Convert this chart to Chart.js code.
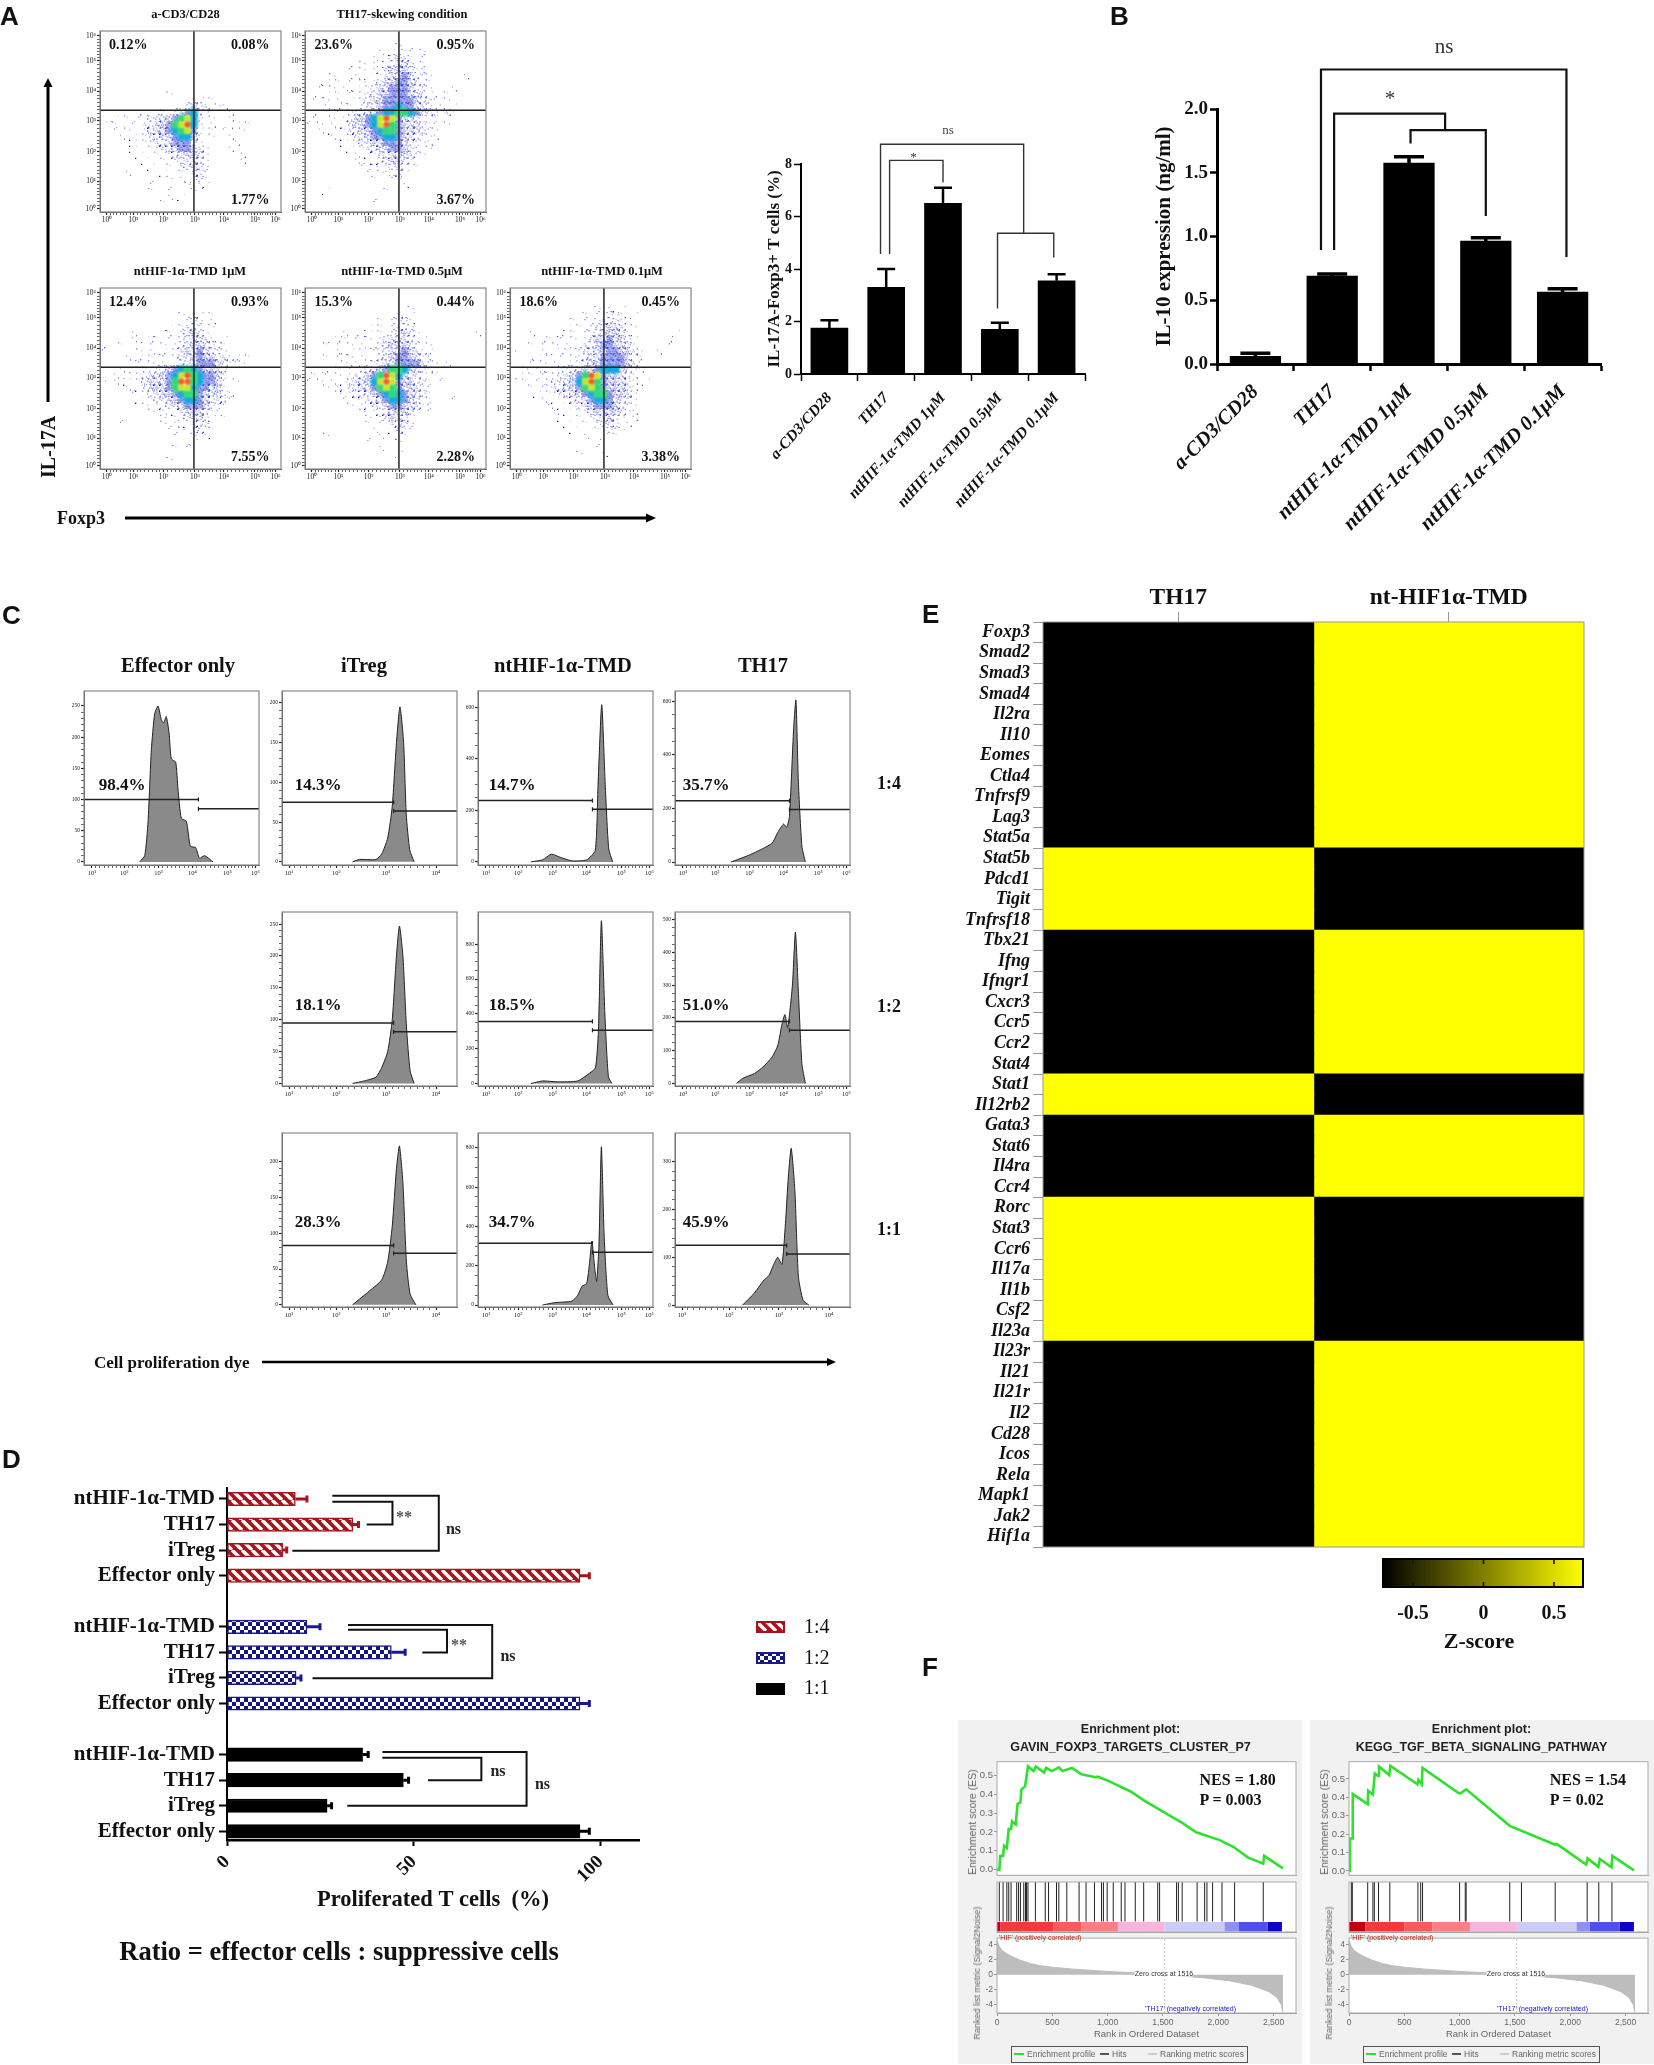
<!DOCTYPE html>
<html><head><meta charset="utf-8">
<script src="https://cdn.jsdelivr.net/npm/chart.js@4/dist/chart.umd.js"></script>
<style>
html,body{margin:0;padding:0;background:#fff}
#root{position:absolute;left:0;top:0;width:1654px;height:2065px;overflow:hidden;filter:blur(0.45px)}
#root canvas{position:absolute}
.t{position:absolute;white-space:pre;line-height:1;color:#111}
svg{position:absolute;left:0;top:0}
</style></head><body><div id="root"></div>
<script>
/* ---------- Panel A bar ---------- */
const barCats=['a-CD3/CD28','TH17','ntHIF-1α-TMD 1μM','ntHIF-1α-TMD 0.5μM','ntHIF-1α-TMD 0.1μM'];
const il17Values=[1.75,3.3,6.5,1.7,3.55];
const il17Err=[2.05,4.0,7.1,1.95,3.8];
const il17Brackets=[[[0.9,4.57],[0.9,8.75],[3.42,8.75],[3.42,5.36]],[[1.06,4.57],[1.06,8.14],[2,8.14],[2,7.3]],[[2.96,2.5],[2.96,5.36],[3.95,5.36],[3.95,4.44]]];
/* ---------- Panel B bar ---------- */
const il10Values=[0.06,0.69,1.575,0.965,0.565];
const il10Err=[0.085,0.705,1.625,0.99,0.59];
const il10Brackets=[[[0.854,0.894],[0.854,2.31],[4.05,2.31],[4.05,0.84]],[[1.025,0.894],[1.025,1.964],[2.47,1.964],[2.47,1.835]],[[2.02,1.73],[2.02,1.835],[3,1.835],[3,1.16]]];
/* ---------- Panel A flow density grids (30x30, read by eye; digit = density class) ---------- */
const flowGrid1=["","","","","","","","","","",
"...........1..................","...............11.1...........","..............1322.11.........","........1.1.134521...1........","..1.1.1.223346752.1..1........","1.1..1.2233467851.1...1.1.....","..1.1..1233456741.1.1..1......","...1.1.1223345531.1..1........",".....1.1122344421.....1.......",".....1..1122344321...1........","......1..1.1223321.....1......",".......1..1.122321.....1......","........1..1.12221............","....1.....1..1.221............","...........1.1.121............","........1.....1.11............","........1..1...1..............","...........1.1................","..........1...................",""];
const flowGrid2=["","","...............1..............","............1.1.11.1..........","...........1.12321.1..........",".........1.1.12332.1..........",".......1.1.112333211..........","....1...1.1.123343211.....1...","...1.1.1.1.1233443211.........","..1.1.1.1.12234443211...1.....","...1.1.1.112334443321..1......",".1.1.1.1.1223444443221.1......","...1.1.1.122344544321.1.1.....","...1.1.112234556654322121.....",".1..1.12334578743321.1........","1.1.1.1233457864333211.1......","..1.1.1223345664333211........","....1.1122344554322111........","......1.1223344432111.........",".......1.1223344321.1.........","........1.1122333211..........","........1..1223321............",".........1.1.1221.1...........","..........1.11.21.............","...........1..11..............","................1.............","...1.........1................","","...........1..................",""];
const flowGrid3=["","","","",".............1.11.1...........","..............121.1...........","...........1.1221.1...........",".....1...1.1.12321............",".....1.1.1.1.123321.1.........","...1....1.1.122332211.........","1.....1.1.1.123343211.........","....1.1.1.1.12234332211.1.....","......1.1.1.122344432111......","...1.1.1.123456543321.........","..1.1.123334578654431.........","1.1.1.123334688654431.1.......","....1.123334677544331.........",".....1.122334566433321........","......1.12233455432221........",".......1.112234443211.........","........1.1.12333211..........","..........1.1.22321.1.........","...1......1.1.12221...........","...........1.1.1211...........","............1..1.1............","...............1..............","............1.1...............","","...........1..................",""];
const flowGrid4=["","","",".................1............","...............1.1............","............1.1121............","..........1.1.1221............","......1...1.1.12321.........1.","....1.1.1.1.123322.1..........","...1.1.1.1.11233321.1.........",".....1.1.1.1123343211.........","...1.1.1.1.1223443211.........","......1.1.112334444211.1......","...1.1.1.122346653221.1.......",".1.1.1.1223468753221.1........","1.1.1.122335787433221.1.......","...1.1122334676433211.........",".....1.11223456543221.........","......1.1122345543211...1.....",".......1.112234433211.........",".........1.11233321.1.........","..........1.123321............","..........1.1.2221............","...........1..1211............","...1........1..11.............","..........1....1..............","............1.................","...............1..............","",""];
const flowGrid5=["","","","..............1.1.1...........","............1.1.211.1.........","..........1.1.12221...........",".........1.1.122332.1.........","...1....1.1.11233321.......1..","......1.1.1.123343321.........","...1.1.1.1.1223443321.....1...","1....1.1.1.12233443321..1.....","....1.1.1.112234444211........","...1.1.1.1.12334444321........","..1.1.1.11223345553211........",".1.1.1.12234687433321.........","1.1.1.122335786433321.1.......","...1.1122334676433321.........","....1.112233456643321.........",".....1.1.122345543211.........","......1.1.12234443211.........",".......1.1.1123333211.........","........1..1.122321.1.........",".........1..1.1221.1..........","..........1...1.211...........","............1..1.1............","","..............1...............","...........1...1..............","",""];
const flowPercents=[['0.12%','0.08%','1.77%'],['23.6%','0.95%','3.67%'],['12.4%','0.93%','7.55%'],['15.3%','0.44%','2.28%'],['18.6%','0.45%','3.38%']];
const flowTitles=['a-CD3/CD28','TH17-skewing condition','ntHIF-1α-TMD 1μM','ntHIF-1α-TMD 0.5μM','ntHIF-1α-TMD 0.1μM'];
const flowXTicks=[3.8,18.4,35.2,52.4,68.4,85.6,97];
const flowYTicks=[1.8,17,33.3,50.4,66.6,83.5,97.3];
const decadeLabels=['10⁰','10¹','10²','10³','10⁴','10⁵','10⁶'];
const quadX=51.9, quadY=56.25;
/* ---------- Panel C histograms ---------- */
const effX=[31.8,34.7,36.6,38.5,40.4,42.3,44.2,45.5,47,48.6,49.9,52.4,53.7,55.6,58.5,60.8,63.8,66,68.9,73.7];
const effY=[0,10,65,180,238,250,228,223,233,207,165,160,117,70,65,25,23,6,10,0];
const itreg14X=[40.3,44.3,53.7,57,60.4,63,65.4,67.4,69.5,71,73,75.5];
const itreg14Y=[0,3,3,10,30,70,150,195,150,60,15,0];
const nt14X=[30.2,36.9,41.9,47,53.7,62.1,67,68.6,70.7,72.7,74.7,77];
const nt14Y=[0,8,30,18,4,8,45,300,610,300,50,0];
const th14X=[31.9,36.9,42,47,55.4,58.7,62,63.8,65.4,67.8,69.1,70.5,72.5,74.5];
const th14Y=[0,12,25,40,70,110,142,130,170,500,605,300,60,0];
const itreg12X=[40.3,47,53.7,57,60.4,63,65.4,67.1,69.1,71.1,73.2,75.5];
const itreg12Y=[0,4,10,25,50,100,200,247,200,90,20,0];
const nt12X=[30.2,36.9,45.3,57,63.8,67.1,68.8,70.5,72.5,74.5,76.5];
const nt12Y=[0,15,10,15,60,90,300,935,400,40,0];
const th12X=[35.2,38.6,45.3,50.3,55.4,58.7,61.1,62.8,64.4,67.1,68.8,70.5,72.5,74.5];
const th12Y=[0,15,30,50,80,115,180,210,170,300,462,280,60,0];
const itreg11X=[40.3,44.3,50.3,57,60.4,63,65.4,67.1,69.1,71.1,73.2,76.5];
const itreg11Y=[0,8,20,35,60,110,190,222,170,60,15,0];
const nt11X=[36.9,43.6,53.7,57,59.4,62.1,63.8,65.1,66.8,67.8,69.1,70.5,72.1,74.2,77.2];
const nt11Y=[0,12,20,50,95,110,220,325,180,120,300,805,350,50,0];
const th11X=[38.6,45.3,50.3,53.7,56.4,58.7,61.1,63.1,64.8,66.4,68.5,70.5,73.2,76.5];
const th11Y=[0,25,50,62,85,100,85,170,270,328,240,60,10,0];
const histDecadeA=[4.5,23,42.6,62,82,98];
const histDecadeB=[4,31,59.4,88];
const histDecadeLabels=['10¹','10²','10³','10⁴','10⁵','10⁶'];
/* ---------- Panel D ---------- */
const rowNames=['ntHIF-1α-TMD','TH17','iTreg','Effector only'];
const ratio14=[18.3,33.7,14.9,94.5];
const ratio14Err=[21.4,35.2,16,97];
const ratio12=[21.4,44,18.5,94.5];
const ratio12Err=[24.9,47.7,19.8,97];
const ratio11=[36.3,47.2,26.8,94.5];
const ratio11Err=[37.8,48.6,28,97];
const ratioBrackets=[[[28.2,-0.13],[56.7,-0.13],[56.7,2.02],[17.5,2.02]],[[28.2,0.11],[44.3,0.11],[44.3,1],[37.4,1]],[[32.4,4.93],[71,4.93],[71,7.01],[22.9,7.01]],[[32.4,5.12],[58.9,5.12],[58.9,6.01],[52.3,6.01]],[[41.6,9.9],[80.2,9.9],[80.2,12],[32.2,12]],[[41.6,10.12],[68.1,10.12],[68.1,11],[53.8,11]]];
/* ---------- Panel E ---------- */
const genes=['Foxp3','Smad2','Smad3','Smad4','Il2ra','Il10','Eomes','Ctla4','Tnfrsf9','Lag3','Stat5a','Stat5b','Pdcd1','Tigit','Tnfrsf18','Tbx21','Ifng','Ifngr1','Cxcr3','Ccr5','Ccr2','Stat4','Stat1','Il12rb2','Gata3','Stat6','Il4ra','Ccr4','Rorc','Stat3','Ccr6','Il17a','Il1b','Csf2','Il23a','Il23r','Il21','Il21r','Il2','Cd28','Icos','Rela','Mapk1','Jak2','Hif1a'];
const zTH17=[-.7,-.7,-.7,-.7,-.7,-.7,-.7,-.7,-.7,-.7,-.7,.7,.7,.7,.7,-.7,-.7,-.7,-.7,-.7,-.7,-.7,.7,.7,-.7,-.7,-.7,-.7,.7,.7,.7,.7,.7,.7,.7,-.7,-.7,-.7,-.7,-.7,-.7,-.7,-.7,-.7,-.7];
const zHIF=[.7,.7,.7,.7,.7,.7,.7,.7,.7,.7,.7,-.7,-.7,-.7,-.7,.7,.7,.7,.7,.7,.7,.7,-.7,-.7,.7,.7,.7,.7,-.7,-.7,-.7,-.7,-.7,-.7,-.7,.7,.7,.7,.7,.7,.7,.7,.7,.7,.7];
const heatCols=['TH17','nt-HIF1α-TMD'];
const zTicks=[-0.5,0,0.5];
/* ---------- Panel F ---------- */
const esLeftRank=[0,21,30,55,64,89,106,127,136,169,186,212,220,254,280,330,352,424,445,496,559,593,678,763,890,911,996,1059,1208,1335,1504,1674,1801,2013,2140,2267,2407,2415,2585];
const esLeftVal=[0,-.003,.072,.072,.126,.114,.215,.215,.257,.24,.35,.358,.426,.443,.55,.525,.55,.517,.542,.525,.545,.525,.542,.508,.492,.495,.475,.458,.416,.366,.307,.248,.198,.156,.119,.064,.03,.072,.005];
const esRightRank=[0,8,30,34,169,174,216,233,263,271,364,373,619,627,657,665,987,1008,1059,1453,1864,1877,2144,2157,2254,2267,2373,2381,2576];
const esRightVal=[0,.176,.176,.418,.363,.435,.415,.529,.517,.568,.521,.572,.471,.495,.471,.56,.425,.422,.444,.245,.142,.147,.034,.068,.022,.065,.019,.082,.003];
const hitsLeft=[21,55,89,106,127,178,195,212,242,258,267,280,347,436,466,538,559,631,742,805,881,945,962,996,1051,1123,1157,1250,1326,1453,1470,1623,1640,1674,1809,1877,1898,1949,2034,2148,2407];
const hitsRight=[21,30,169,216,229,267,369,623,648,665,1000,1051,1059,1453,1559,1864,2153,2258,2377];
const stripLeft=[0,30,508,763,1093,1513,2055,2182,2449,2576];
const stripRight=[0,148,500,754,1093,1517,2055,2174,2449,2576];
const stripColors=['#c00010','#f23a3a','#f55c5c','#f98080','#fbb5dd','#ccccfa','#8f8ff5','#5050e8','#1000c8'];
const metricRank=[0,20,50,100,200,300,400,500,700,1000,1200,1516,1700,1900,2100,2300,2450,2530,2570,2585];
const metricVal=[4.6,3.8,3.2,2.7,2,1.5,1.2,1,.75,.45,.3,0,-.2,-.45,-.8,-1.4,-2.2,-3,-4,-5];

/* ========== helpers ========== */
const SERIF='"Liberation Serif"', SANS='"Liberation Sans"';
Chart.defaults.animation=false;Chart.defaults.responsive=false;Chart.defaults.devicePixelRatio=1;
Chart.defaults.font.family=SERIF;Chart.defaults.color='#111';
Chart.defaults.plugins.legend.display=false;Chart.defaults.plugins.tooltip.enabled=false;
const root=document.getElementById('root');
function T(s,x,y,o={}){const d=document.createElement('div');d.className='t';d.textContent=s;
 const a=o.a||'c',dx=a==='c'?'-50%':a==='r'?'-100%':'0';
 d.style.cssText+=`left:${x}px;top:${y}px;font:${o.i?'italic ':''}${o.b===false?'':'bold '}${o.s||14}px ${o.f||SERIF};color:${o.c||'#111'};transform:translate(${dx},-50%) rotate(${o.r||0}deg)`;
 root.appendChild(d);return d;}
function chartAt(x0,y0,x1,y1,pad,cfg){const {L=40,B=30,T:Tp=8,R=6,topAxis=false}=pad;const c=document.createElement('canvas');
 c.width=x1-x0+L+R;c.height=y1-y0+Tp+B;c.style.left=(x0-L)+'px';c.style.top=(y0-Tp)+'px';root.appendChild(c);
 cfg.options=cfg.options||{};cfg.options.layout={padding:topAxis?{top:0,right:R,left:0,bottom:B}:{top:Tp,right:R,left:0,bottom:0}};
 const sc=cfg.options.scales;sc.x.afterFit=s=>{s.height=topAxis?Tp:B};sc.y.afterFit=s=>{s.width=L};
 return new Chart(c,cfg);}
const frame={id:'frame',beforeDatasetsDraw(c,a,o){if(o.fill){const r=c.chartArea;c.ctx.fillStyle=o.fill;c.ctx.fillRect(r.left,r.top,r.width,r.height);}},
 afterDraw(c,a,o){const r=c.chartArea,x=c.ctx;x.save();x.strokeStyle=o.color||'#8a8a8a';x.lineWidth=o.width||1.2;x.strokeRect(r.left,r.top,r.width,r.height);x.restore();}};
const marks={id:'marks',afterDatasetsDraw(c,a,o){const x=c.ctx,X=c.scales.x,Y=c.scales.y;x.save();
 (o.err||[]).forEach(e=>{x.strokeStyle=e.color||'#000';x.lineWidth=e.lw||3;x.lineCap='butt';x.beginPath();
  if(e.h){const p0=X.getPixelForValue(e.v),p1=X.getPixelForValue(e.top),py=Y.getPixelForValue(e.i);x.moveTo(p0,py);x.lineTo(p1,py);x.moveTo(p1,py-e.cap);x.lineTo(p1,py+e.cap);}
  else{const px=X.getPixelForValue(e.i),p0=Y.getPixelForValue(e.v),p1=Y.getPixelForValue(e.top);x.moveTo(px,p0);x.lineTo(px,p1);x.moveTo(px-e.cap,p1);x.lineTo(px+e.cap,p1);}
  x.stroke();});
 x.strokeStyle=o.bColor||'#000';x.lineWidth=o.bw||2;x.lineJoin='miter';
 (o.brackets||[]).forEach(b=>{x.beginPath();b.forEach((p,i)=>{const px=X.getPixelForValue(p[0]),py=Y.getPixelForValue(p[1]);i?x.lineTo(px,py):x.moveTo(px,py);});x.stroke();});
 x.restore();}};
const innerTicks={id:'innerTicks',afterDraw(c){const x=c.ctx,r=c.chartArea;x.save();x.strokeStyle='#111';x.lineWidth=1.6;zTicks.forEach(v=>{const p=c.scales.x.getPixelForValue(v);x.beginPath();x.moveTo(p,r.top);x.lineTo(p,r.top+5);x.moveTo(p,r.bottom-5);x.lineTo(p,r.bottom);x.stroke();});x.restore();}};
const xy=(a,b)=>a.map((v,i)=>({x:v,y:b[i]}));
function withMinors(maj,n,lo,hi){const out=maj.map(v=>({value:v,major:true}));
 for(let i=0;i<maj.length-1;i++)for(let k=1;k<n;k++)out.push({value:maj[i]+(maj[i+1]-maj[i])*k/n});
 return out.filter(t=>t.value>=lo&&t.value<=hi).sort((p,q)=>p.value-q.value);}
function flowAxis(maj,labels,n,lo,hi,font){return {type:'linear',min:lo,max:hi,
 afterBuildTicks:s=>{s.ticks=withMinors(maj,n,lo,hi)},
 border:{color:'#555',width:1},
 grid:{drawOnChartArea:false,tickLength:3,color:'#000',tickColor:'#222',tickWidth:c=>c.tick&&c.tick.major?1.2:0.7},
 ticks:{autoSkip:false,maxRotation:0,minRotation:0,padding:1,font:{size:font,family:SERIF},color:'#222',
  callback:function(v){const i=maj.indexOf(v);return i>=0?labels[i]:''}}};}

/* stipple tiles for the density classes: larger than a cell so that neighbours interleave */
const dotPos=[[1,1],[6,3],[3,6],[0,4],[5,0],[3,2],[7,6],[2,4],[6,7],[4,4],[0,7],[7,1],[2,0],[5,5],[1,6],[4,2]];
const dotCols=['#2a2ad6','#7a7ae8','#1818b8','#a8a8f0','#2a50e0','#4a4ae0','#1c1cc8'];
function tile(n,v,under){const c=document.createElement('canvas');c.width=c.height=8;const x=c.getContext('2d');
 if(under){x.fillStyle=under;x.fillRect(1,1,6,6);}
 for(let i=0;i<n;i++){const p=dotPos[(i+v*5)%16];x.fillStyle=dotCols[(i+v)%7];x.fillRect(p[0],p[1],1,1);}return c;}
function disc(col,size,plateau){const c=document.createElement('canvas');c.width=c.height=size;const x=c.getContext('2d'),m=size/2;
 const g=x.createRadialGradient(m,m,0,m,m,m);g.addColorStop(0,col);g.addColorStop(plateau,col);g.addColorStop(1,col+'00');x.fillStyle=g;x.fillRect(0,0,size,size);return c;}
const variants=[0,1,2,3,4];
const levelTiles={1:variants.map(v=>tile(2,v)),2:variants.map(v=>tile(5,v)),3:variants.map(v=>tile(10,v)),4:variants.map(v=>tile(16,v,'rgba(70,90,225,.4)'))};
const levelDisc={5:disc('#12a8e0',12,.4),6:disc('#30d878',12,.4),7:disc('#c8e820',10,.35),8:disc('#f06018',9,.35)};

/* ========== Panel A flow ========== */
const flowGrids=[flowGrid1,flowGrid2,flowGrid3,flowGrid4,flowGrid5];
const flowPos=[[99.6,31],[305,31],[99.6,288],[305,288],[510,288]];
const flowTitlePos=[[185.5,14],[402,14],[190,271],[402,271],[602,271]];
flowGrids.forEach((g,p)=>{const [x0,y0]=flowPos[p],x1=x0+181.4,y1=y0+181.6;
 const ds=[{type:'line',data:[{x:quadX,y:0},{x:quadX,y:100}],borderColor:'#222',borderWidth:1.5,pointRadius:0},
  {type:'line',data:[{x:0,y:quadY},{x:100,y:quadY}],borderColor:'#222',borderWidth:1.5,pointRadius:0}];
 for(let l=8;l>=1;l--){const pts=[];g.forEach((row,r)=>{for(let k=0;k<row.length;k++)if(row[k]==String(l))pts.push({x:(k+.5)/30*100,y:100-(r+.5)/30*100});});
  ds.push({type:'scatter',data:pts,pointRadius:3,pointStyle:l<=4?(ctx=>levelTiles[l][ctx.dataIndex%5]):levelDisc[l]});}
 chartAt(x0,y0,x1,y1,{L:19,B:19,T:6,R:7},{type:'scatter',data:{datasets:ds},plugins:[frame],options:{plugins:{frame:{color:'#888'}},
  scales:{x:flowAxis(flowXTicks,decadeLabels,8,0,100,7.5),y:flowAxis(flowYTicks,decadeLabels,8,0,100,7.5)}}});
 T(flowTitles[p],flowTitlePos[p][0],flowTitlePos[p][1],{s:12.5});
 T(flowPercents[p][0],x0+9.5,y0+14,{a:'l',s:14});T(flowPercents[p][1],x0+170,y0+14,{a:'r',s:14});T(flowPercents[p][2],x0+170,y0+168.5,{a:'r',s:14});
});

/* ========== bars A / B ========== */
function barChart(x0,y0,x1,y1,pad,vals,errs,maxY,step,fmt,title,tFont,lFont,yFont,tpad,bt,cap,brackets,bw,aw,bcol,tl,lp,rot){
 chartAt(x0,y0,x1,y1,pad,{type:'bar',data:{labels:barCats,datasets:[{data:vals,backgroundColor:'#000',barThickness:bt}]},plugins:[marks],
 options:{plugins:{marks:{err:vals.map((v,i)=>({i,v,top:errs[i],cap,lw:aw+.5})),brackets,bw,bColor:bcol}},
 scales:{x:{type:'category',border:{color:'#000',width:aw},grid:{drawOnChartArea:false,tickLength:tl,tickColor:'#000',tickWidth:aw-.5},
  ticks:{autoSkip:false,minRotation:rot,maxRotation:rot,padding:lp,color:'#111',font:{size:lFont,style:'italic',weight:'bold'}}},
  y:{type:'linear',min:0,max:maxY,border:{color:'#000',width:aw},grid:{drawOnChartArea:false,tickLength:tl,tickColor:'#000',tickWidth:aw-.5},
  afterBuildTicks:s=>{const t=[];for(let v=0;v<=maxY+1e-6;v+=step)t.push({value:+v.toFixed(2)});s.ticks=t;},
  ticks:{padding:2,color:'#111',font:{size:yFont,weight:'bold'},callback:fmt},
  title:{display:true,text:title,color:'#111',font:{size:tFont,weight:'bold'},padding:{top:tpad,bottom:0}}}}}});}
barChart(801,163.6,1085,373.6,{L:70,B:170,T:60,R:10},il17Values,il17Err,8,2,v=>String(v),'IL-17A-Foxp3+ T cells (%)',17,15.5,14,33,37,9,il17Brackets,1.4,2,'#333',7,8,48);
barChart(1217,109,1601,364,{L:90,B:170,T:70,R:10},il10Values,il10Err,2,.5,v=>v.toFixed(1),'IL-10 expression (ng/ml)',21,20.5,19,25,50.6,15,il10Brackets,2.2,3,'#111',7,9,45);
T('ns',948,130,{s:13,b:false,c:'#444'});T('*',913.5,157,{s:13,b:false,c:'#333'});
T('ns',1444,46,{s:21,b:false,c:'#333'});T('*',1390,98,{s:21,b:false,c:'#333'});

/* ========== Panel C ========== */
const histCols=[84,281.7,478,675], histRows=[690.5,912.4,1133];
const histPanels=[
 {c:0,r:0,x:effX,y:effY,t:[0,50,100,150,200,250],lo:-5,hi:274,dec:histDecadeA,n:5,gx:65.4,gl:100,gr:85,pct:'98.4%'},
 {c:1,r:0,x:itreg14X,y:itreg14Y,t:[0,50,100,150,200],lo:-4,hi:215,dec:histDecadeB,n:5,gx:63.8,gl:75,gr:64,pct:'14.3%'},
 {c:2,r:0,x:nt14X,y:nt14Y,t:[0,200,400,600],lo:-12,hi:663,dec:histDecadeA,n:4,gx:65.4,gl:238,gr:204,pct:'14.7%'},
 {c:3,r:0,x:th14X,y:th14Y,t:[0,200,400,600],lo:-11,hi:639,dec:histDecadeA,n:4,gx:65.4,gl:229,gr:196,pct:'35.7%'},
 {c:1,r:1,x:itreg12X,y:itreg12Y,t:[0,50,100,150,200,250],lo:-4,hi:269,dec:histDecadeB,n:5,gx:63.8,gl:95,gr:81,pct:'18.1%'},
 {c:2,r:1,x:nt12X,y:nt12Y,t:[0,200,400,600,800],lo:-14,hi:985,dec:histDecadeA,n:4,gx:65.4,gl:357,gr:306,pct:'18.5%'},
 {c:3,r:1,x:th12X,y:th12Y,t:[0,100,200,300,400,500],lo:-8,hi:523,dec:histDecadeA,n:4,gx:65.4,gl:189,gr:162,pct:'51.0%'},
 {c:1,r:2,x:itreg11X,y:itreg11Y,t:[0,50,100,150,200],lo:-3,hi:240,dec:histDecadeB,n:5,gx:63.8,gl:83,gr:72,pct:'28.3%'},
 {c:2,r:2,x:nt11X,y:nt11Y,t:[0,200,400,600,800],lo:-10,hi:875,dec:histDecadeA,n:4,gx:65.4,gl:314,gr:268,pct:'34.7%'},
 {c:3,r:2,x:th11X,y:th11Y,t:[0,100,200,300],lo:-4,hi:360,dec:histDecadeB,n:5,gx:63.8,gl:125,gr:107,pct:'45.9%'}];
const pctRowY=[785,1004.5,1222];
const pctOffX=[38,36.5,34,31];
histPanels.forEach(h=>{const x0=histCols[h.c],y0=histRows[h.r];
 const gate=(a,b,y)=>({type:'scatter',showLine:true,data:[{x:a,y},{x:b,y}],borderColor:'#222',borderWidth:1.5,pointRadius:0});
 const cap=(y0,y1)=>({type:'scatter',showLine:true,data:[{x:h.gx,y:y0},{x:h.gx,y:y1}],borderColor:'#222',borderWidth:1.2,pointRadius:0});
 const d=(h.hi-h.lo)*.012;
 chartAt(x0,y0,x0+175,y0+174.5,{L:19,B:18,T:6,R:6},{type:'scatter',data:{datasets:[
  gate(0,h.gx,h.gl),gate(h.gx,100,h.gr),cap(h.gl-d,h.gl+d),cap(h.gr-d,h.gr+d),
  {type:'scatter',showLine:true,data:xy(h.x,h.y),borderColor:'#222',borderWidth:1,backgroundColor:'#8a8a8a',fill:'origin',pointRadius:0,tension:.2}]},
  plugins:[frame],options:{plugins:{frame:{color:'#888'}},scales:{x:flowAxis(h.dec,histDecadeLabels,8,0,100,6.5),y:flowAxis(h.t,h.t.map(String),h.n,h.lo,h.hi,5.5)}}});
 T(h.pct,x0+pctOffX[h.c],pctRowY[h.r],{s:17});
});
[['Effector only',178],['iTreg',364],['ntHIF-1α-TMD',563],['TH17',763]].forEach(p=>T(p[0],p[1],664.5,{s:20.5}));
[['1:4',783],['1:2',1005.5],['1:1',1229]].forEach(p=>T(p[0],889,p[1],{s:18}));
T('Cell proliferation dye',94,1362.5,{a:'l',s:17});

/* ========== Panel D ========== */
function hatch(){const c=document.createElement('canvas');c.width=c.height=10;const x=c.getContext('2d');x.fillStyle='#a8141c';x.fillRect(0,0,10,10);x.strokeStyle='#fff';x.lineWidth=3.4;x.beginPath();for(let k=-10;k<=10;k+=10){x.moveTo(k,0);x.lineTo(k+10,10);}x.stroke();return x.createPattern(c,'repeat');}
function check(){const c=document.createElement('canvas');c.width=c.height=8;const x=c.getContext('2d');x.fillStyle='#15157f';x.fillRect(0,0,8,8);x.fillStyle='#fff';x.fillRect(0,0,4,4);x.fillRect(4,4,4,4);return x.createPattern(c,'repeat');}
const rowsAt={};[0,5,10].forEach(o=>rowNames.forEach((n,i)=>rowsAt[o+i]=n));
const rowKeys=Object.keys(rowsAt).map(Number);
const dSeries=[[ratio14,ratio14Err,0,hatch(),'#a8141c','1:4'],[ratio12,ratio12Err,5,check(),'#1a1a8c','1:2'],[ratio11,ratio11Err,10,'#000','#000','1:1']];
chartAt(227.3,1488,640,1840.5,{L:175,B:74,T:18,R:8},{type:'bar',data:{datasets:dSeries.map(s=>({label:s[5],data:s[0].map((v,i)=>({x:v,y:s[2]+i})),backgroundColor:s[3],borderColor:s[4],borderWidth:1.5,borderSkipped:false,barThickness:13.5,grouped:false}))},
 plugins:[marks],options:{indexAxis:'y',plugins:{marks:{err:dSeries.flatMap(s=>s[0].map((v,i)=>({h:true,i:s[2]+i,v,top:s[1][i],cap:3.5,lw:3,color:s[4]}))),brackets:ratioBrackets,bw:2,bColor:'#111'}},
 scales:{x:{type:'linear',min:0,max:110.3,border:{color:'#000',width:2.4},grid:{drawOnChartArea:false,tickLength:6,tickColor:'#000',tickWidth:2},
   afterBuildTicks:s=>{s.ticks=[0,50,100].map(v=>({value:v}))},
   ticks:{minRotation:45,maxRotation:45,padding:5,color:'#111',font:{size:19,weight:'bold'}},
   title:{display:true,text:'Proliferated T cells  (%)',color:'#111',font:{size:22.5,weight:'bold'},padding:{top:0,bottom:0}}},
  y:{type:'linear',reverse:true,offset:false,min:-0.43,max:13.34,border:{color:'#000',width:2},grid:{offset:false,drawOnChartArea:false,tickLength:8,tickColor:'#000',tickWidth:2},
   afterBuildTicks:s=>{s.ticks=rowKeys.map(v=>({value:v}))},
   ticks:{autoSkip:false,padding:4,color:'#111',font:{size:21,weight:'bold'},callback:v=>rowsAt[v]||''}}}}});
[['**',404,1517],['ns',453.5,1529],['**',459,1645],['ns',508,1656],['ns',498,1771],['ns',542.5,1784]].forEach(p=>T(p[0],p[1],p[2],{s:16,c:p[0]==='**'?'#555':'#222'}));
T('Ratio = effector cells : suppressive cells',339,1951,{s:26.5});
[[1621,0,'1:4',1626],[1652,1,'1:2',1657],[1682.5,2,'1:1',1687]].forEach(p=>{const c=document.createElement('canvas');c.width=29;c.height=12;c.style.left='756px';c.style.top=p[0]+'px';root.appendChild(c);const x=c.getContext('2d');x.fillStyle=dSeries[p[1]][3];x.fillRect(0,0,29,12);x.strokeStyle=dSeries[p[1]][4];x.lineWidth=2;x.strokeRect(1,1,27,10);T(p[2],804,p[3],{a:'l',s:20,b:false});});

/* ========== Panel E ========== */
const zCol=z=>{const t=Math.max(0,Math.min(1,(z+.7)/1.4));return `rgb(${255*t|0},${255*t|0},0)`};
chartAt(1043,622,1584.6,1547,{L:150,B:20,T:50,R:8,topAxis:true},{type:'bar',data:{labels:genes,datasets:[
 {data:genes.map(()=>[0,1]),backgroundColor:zTH17.map(zCol),borderWidth:0,inflateAmount:.7,categoryPercentage:1,barPercentage:1,grouped:false},
 {data:genes.map(()=>[1,2]),backgroundColor:zHIF.map(zCol),borderWidth:0,inflateAmount:.7,categoryPercentage:1,barPercentage:1,grouped:false}]},
 plugins:[frame],options:{indexAxis:'y',plugins:{frame:{color:'#999',width:1}},scales:{
  x:{type:'linear',position:'top',min:0,max:2,border:{display:false},grid:{drawOnChartArea:false,tickLength:10,tickColor:'#999'},afterBuildTicks:s=>{s.ticks=[.5,1.5].map(v=>({value:v}))},
   ticks:{padding:0,color:'#111',maxRotation:0,font:{size:23.5,weight:'bold'},callback:v=>heatCols[v<1?0:1]}},
  y:{type:'category',border:{display:false},grid:{drawOnChartArea:false,tickLength:10,tickColor:'#999'},ticks:{autoSkip:false,padding:3,color:'#111',font:{size:18,style:'italic',weight:'bold'}}}}}});
chartAt(1383,1559,1583,1587,{L:10,B:40,T:4,R:10},{type:'bar',data:{labels:['Z'],datasets:[{data:[[-0.713,0.706]],categoryPercentage:1,barPercentage:1,
  backgroundColor:ctx=>{const a=ctx.chart.chartArea;if(!a)return '#000';const g=ctx.chart.ctx.createLinearGradient(a.left,0,a.right,0);g.addColorStop(0,'#000');g.addColorStop(1,'#ffff00');return g;}}]},
 plugins:[frame,innerTicks],options:{indexAxis:'y',plugins:{frame:{color:'#000',width:2}},scales:{x:{type:'linear',min:-0.713,max:0.706,border:{display:false},grid:{drawOnChartArea:false,drawTicks:false},
   afterBuildTicks:s=>{s.ticks=zTicks.map(v=>({value:v}))},ticks:{padding:15,color:'#111',font:{size:20,weight:'bold'},callback:v=>v===0?'0':String(v)}},
  y:{type:'category',display:false}}}});
T('Z-score',1479,1641,{s:22});

/* ========== Panel F ========== */
const gCol='#666';
const gAxis=(o)=>Object.assign({type:'linear',border:{color:'#999',width:1},grid:{color:'#e6e6e6',tickLength:3,tickColor:'#999'},ticks:{color:gCol,padding:1,font:{size:9.5,family:SANS}}},o);
function gsea(px0,bg0,tx,title,esR,esV,yLo,yHi,hits,strip,nesX,nes,pv){
 const px1=px0+299;
 const bg=document.createElement('div');bg.style.cssText=`position:absolute;left:${bg0}px;top:1720px;width:344px;height:344px;background:#f1f1f1`;root.appendChild(bg);
 T('Enrichment plot:',tx,1729,{f:SANS,s:12.5,c:'#222'});T(title,tx,1747,{f:SANS,s:12.5,c:'#222'});
 chartAt(px0,1760,px1,1881,{L:40,B:1,T:5,R:5},{type:'scatter',data:{datasets:[{showLine:true,data:xy(esR,esV),borderColor:'#2fe02f',borderWidth:2.6,pointRadius:0}]},plugins:[frame],options:{plugins:{frame:{color:'#aaa',width:1,fill:'#fff'}},scales:{
  x:gAxis({min:0,max:2703,afterBuildTicks:s=>{s.ticks=[500,1000,1500,2000,2500].map(v=>({value:v}))},grid:{color:'#e6e6e6',drawTicks:false},ticks:{display:false}}),
  y:gAxis({min:yLo,max:yHi,afterBuildTicks:s=>{s.ticks=[0,.1,.2,.3,.4,.5].map(v=>({value:v}))},ticks:{color:gCol,padding:1,font:{size:9.5,family:SANS},callback:v=>v.toFixed(1)}})}}});
 T('Enrichment score (ES)',px0-25,1822,{f:SANS,s:10.5,b:false,c:gCol,r:-90});
 const sDs=strip.slice(0,-1).map((v,i)=>({showLine:true,data:[{x:v,y:.105},{x:strip[i+1],y:.105}],borderColor:stripColors[i],borderWidth:9.5,borderCapStyle:'butt',pointRadius:0}));
 const hitPts=[];hits.forEach(h=>{hitPts.push({x:h,y:.21},{x:h,y:1},{x:h,y:null});});
 chartAt(px0,1882,px1,1932,{L:40,B:1,T:1,R:5},{type:'scatter',data:{datasets:[...sDs,{showLine:true,spanGaps:false,data:hitPts,borderColor:'#222',borderWidth:1,pointRadius:0}]},plugins:[frame],options:{plugins:{frame:{color:'#aaa',width:1,fill:'#fff'}},scales:{
  x:gAxis({min:0,max:2703,grid:{display:false},ticks:{display:false}}),y:gAxis({min:0,max:1,grid:{display:false},ticks:{display:false}})}}});
 const zx=[{x:1516,y:-5.1},{x:1516,y:4.9}];
 chartAt(px0,1933,px1,2013,{L:40,B:27,T:1,R:5},{type:'scatter',data:{datasets:[
   {showLine:true,data:zx,borderColor:'#bbb',borderWidth:.8,borderDash:[2,2],pointRadius:0},
   {showLine:true,data:xy(metricRank,metricVal),borderColor:'#bdbdbd',borderWidth:1,backgroundColor:'#bdbdbd',fill:'origin',pointRadius:0}]},plugins:[frame],options:{plugins:{frame:{color:'#aaa',width:1,fill:'#fff'}},scales:{
  x:gAxis({min:0,max:2703,afterBuildTicks:s=>{s.ticks=[0,500,1000,1500,2000,2500].map(v=>({value:v}))},ticks:{color:gCol,padding:2,maxRotation:0,font:{size:8.5,family:SANS},callback:v=>v.toLocaleString('en-US')},
    title:{display:true,text:'Rank in Ordered Dataset',color:gCol,font:{size:9.5,family:SANS,weight:'normal'},padding:{top:1,bottom:0}}}),
  y:gAxis({min:-5.1,max:4.9,afterBuildTicks:s=>{s.ticks=[-4,-2,0,2,4].map(v=>({value:v}))},ticks:{color:gCol,padding:1,font:{size:8.5,family:SANS}}})}}});
 T('Ranked list metric (Signal2Noise)',px0-20,1973,{f:SANS,s:9,b:false,c:gCol,r:-90});
 T("'HIF' (positively correlated)",px0+2,1936.5,{a:'l',f:SANS,s:7,b:false,c:'#c82020'});
 T("'TH17' (negatively correlated)",px0+148,2007.5,{a:'l',f:SANS,s:7,b:false,c:'#2020c0'});
 const z=T('Zero cross at 1516',px0+167,1972.5,{f:SANS,s:7,b:false,c:'#333'});z.style.background='#fff';
 T(nes,nesX,1780,{a:'l',s:16});T(pv,nesX,1800,{a:'l',s:16});
 const lg=document.createElement('div');lg.style.cssText=`position:absolute;left:${bg0+53}px;top:2046px;width:237px;height:17px;border:1.4px solid #555;box-sizing:border-box`;root.appendChild(lg);
 const seg=(x,w,c,h)=>{const e=document.createElement('div');e.style.cssText=`position:absolute;left:${x}px;top:${2054-h/2}px;width:${w}px;height:${h}px;background:${c}`;root.appendChild(e);};
 const L0=bg0;seg(L0+56,10,'#2fe02f',2.2);seg(L0+142,9,'#555',1.4);seg(L0+190,9,'#ccc',1.2);
 T('Enrichment profile',L0+69,2054,{a:'l',f:SANS,s:8.5,b:false,c:'#666'});T('Hits',L0+154,2054,{a:'l',f:SANS,s:8.5,b:false,c:'#666'});T('Ranking metric scores',L0+202,2054,{a:'l',f:SANS,s:8.5,b:false,c:'#666'});
}
gsea(997,958,1130.5,'GAVIN_FOXP3_TARGETS_CLUSTER_P7',esLeftRank,esLeftVal,-.032,.575,hitsLeft,stripLeft,1199.5,'NES = 1.80','P = 0.003');
gsea(1349,1310,1481.5,'KEGG_TGF_BETA_SIGNALING_PATHWAY',esRightRank,esRightVal,-.024,.594,hitsRight,stripRight,1549.7,'NES = 1.54','P = 0.02');

/* ========== labels, arrows ========== */
[['A',0,16],['B',1110,16],['C',2,615],['D',2,1459],['E',922,614],['F',922,1667]].forEach(p=>T(p[0],p[1],p[2],{a:'l',f:SANS,s:26}));
T('IL-17A',48,447,{s:20,r:-90});T('Foxp3',57,518,{a:'l',s:18});
const NS='http://www.w3.org/2000/svg';const svg=document.createElementNS(NS,'svg');svg.setAttribute('width',1654);svg.setAttribute('height',2065);
function arrow(x1,y1,x2,y2,w,hl,hw){const l=document.createElementNS(NS,'line');const dx=Math.sign(x2-x1),dy=Math.sign(y2-y1);
 l.setAttribute('x1',x1);l.setAttribute('y1',y1);l.setAttribute('x2',x2-dx*hl);l.setAttribute('y2',y2-dy*hl);l.setAttribute('stroke','#000');l.setAttribute('stroke-width',w);svg.appendChild(l);
 const p=document.createElementNS(NS,'polygon');const bx=x2-dx*hl,by=y2-dy*hl;p.setAttribute('points',`${x2},${y2} ${bx+dy*hw},${by+dx*hw} ${bx-dy*hw},${by-dx*hw}`);svg.appendChild(p);}
arrow(48,402,48,78,3,9,4.5);arrow(125,518,656,518,3,10,4.5);arrow(262,1362,836,1362,2.6,9,4);
root.appendChild(svg);
</script></body></html>
